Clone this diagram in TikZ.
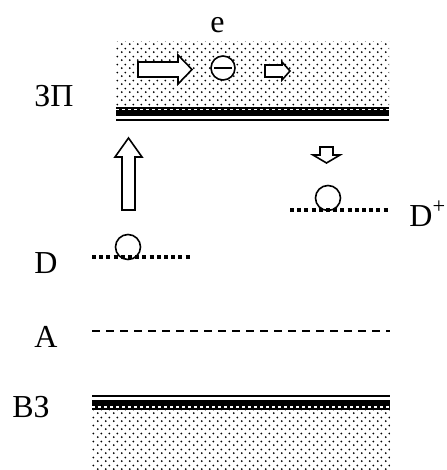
\documentclass[tikz,border=0pt]{standalone}
\usepackage{fontspec}
\setmainfont{Liberation Serif}
\usetikzlibrary{patterns}

\pgfdeclarepatternformonly{stipple}{\pgfpointorigin}{\pgfpoint{4pt}{4pt}}{\pgfpoint{4pt}{4pt}}{
	\pgfpathcircle{\pgfpoint{1pt}{1pt}}{0.55pt}
	\pgfpathcircle{\pgfpoint{3pt}{3pt}}{0.55pt}
	\pgfusepath{fill}}

\begin{document}
\begin{tikzpicture}[x=0.5pt,y=-0.5pt, line join=miter, font=\fontsize{16}{19}\selectfont]
	\tikzstyle{band}=[pattern=stipple, pattern color=black]
	\tikzstyle{block}=[draw=black, fill=white, line width=0.8pt]
	\tikzstyle{level}=[line width=2pt, dash pattern=on 2pt off 1.6pt]
	\tikzstyle{hole}=[circle, draw=black, line width=0.8pt, inner sep=0pt, minimum size=12.5pt]
	\tikzstyle{lbl}=[inner sep=0pt, anchor=base west]
	\useasboundingbox (0,0) rectangle (446,470);

	% conduction band
	\fill[band] (116,42) rectangle (389,107);
	\fill (116,107) rectangle (389,116);
	\draw[white, line width=0.6pt, dash pattern=on 1.5pt off 1.5pt] (116,109.5) -- (389,109.5);
	\draw[line width=1pt] (116,120) -- (389,120);

	% valence band
	\draw[line width=1pt] (92,395.5) -- (390,395.5);
	\fill (92,400) rectangle (390,410);
	\draw[white, line width=0.6pt, dash pattern=on 1.5pt off 1.5pt] (92,407) -- (390,407);
	\fill[band] (92,410) rectangle (390,470);

	% electron and drift arrows
	\draw[block] (138,62) -- (178,62) -- (178,55) -- (192,69.5) -- (178,84) -- (178,77) -- (138,77) -- cycle;
	\node[hole, fill=white, minimum size=12pt] (el) at (223,68) {};
	\draw[line width=1.1pt] ([xshift=2pt]el.west) -- ([xshift=-2pt]el.east);
	\draw[block] (265,65) -- (282,65) -- (282,62) -- (290,71) -- (282,80) -- (282,77) -- (265,77) -- cycle;

	% transitions
	\draw[block] (122,210) -- (122,157) -- (115,157) -- (128.5,138) -- (142,157) -- (135,157) -- (135,210) -- cycle;
	\draw[block] (320,147) -- (333,147) -- (333,155) -- (340,155) -- (326.5,163) -- (313,155) -- (320,155) -- cycle;

	% impurity levels
	\node[hole] (h1) at (128,247) {};
	\node[hole] (h2) at (328,198) {};
	\draw[level] (92,257) -- (190,257);
	\draw[level] (290,210) -- (388,210);
	\draw[line width=1pt, dash pattern=on 4pt off 3pt] (92,331) -- (390,331);

	% labels
	\node[lbl] (e) at (210,33) {e};
	\node[lbl] (cb) at (34,107) {ЗП};
	\node[lbl] (vb) at (12,417) {ВЗ};
	\node[lbl] (d) at (34,273) {D};
	\node[lbl] (a) at (34,347) {A};
	\node[lbl] (dp) at (409,226) {D\textsuperscript{+}};
\end{tikzpicture}
\end{document}
